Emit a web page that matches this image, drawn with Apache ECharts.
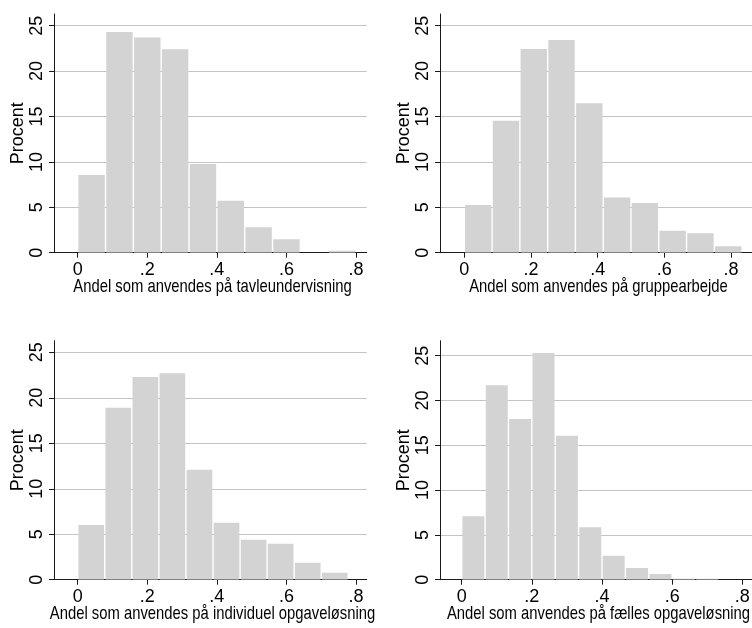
<!DOCTYPE html>
<html><head><meta charset="utf-8">
<script src="https://cdn.jsdelivr.net/npm/echarts@6/dist/echarts.min.js"></script>
<style>html,body{margin:0;padding:0;background:#fff}#c{width:752px;height:628px}</style>
</head><body><div id="c"></div>
<script>
// ---- data ----
const yTicks = [0, 5, 10, 15, 20, 25];
const yTickLabels = ['0', '5', '10', '15', '20', '25'];
const xTicks = [0, 0.2, 0.4, 0.6, 0.8];
const xTickLabels = ['0', '.2', '.4', '.6', '.8'];
const yTitle = 'Procent';
const xTitles = [
  'Andel som anvendes på tavleundervisning',
  'Andel som anvendes på gruppearbejde',
  'Andel som anvendes på individuel opgaveløsning',
  'Andel som anvendes på fælles opgaveløsning'
];
// bin edges (share of time) and percent per bin
const edges1 = [0, 0.08, 0.16, 0.24, 0.32, 0.40, 0.48, 0.56, 0.64, 0.72, 0.80];
const pct1 = [8.55, 24.3, 23.7, 22.4, 9.77, 5.73, 2.79, 1.47, 0, 0.22];
const edges2 = [0, 0.0833, 0.1667, 0.25, 0.3333, 0.4167, 0.5, 0.5833, 0.6667, 0.75, 0.8333];
const pct2 = [5.25, 14.54, 22.43, 23.42, 16.45, 6.09, 5.47, 2.42, 2.13, 0.70];
const edges3 = [0, 0.0778, 0.1556, 0.2333, 0.3111, 0.3889, 0.4667, 0.5444, 0.6222, 0.7, 0.7778];
const pct3 = [6.01, 18.9, 22.3, 22.7, 12.1, 6.27, 4.4, 3.96, 1.87, 0.77];
const edges4 = [0, 0.0667, 0.1333, 0.2, 0.2667, 0.3333, 0.4, 0.4667, 0.5333, 0.6, 0.6667, 0.7333];
const pct4 = [7.07, 21.69, 17.93, 25.3, 16.07, 5.84, 2.68, 1.30, 0.63, 0.11, 0.11];

const allEdges = [edges1, edges2, edges3, edges4];
const allPct = [pct1, pct2, pct3, pct4];

// ---- layout ----
const grids = [
  {left: 54, top: 14, width: 312.7, height: 238.7},
  {left: 440, top: 14, width: 312, height: 238.7},
  {left: 54, top: 340.7, width: 312.7, height: 239},
  {left: 440, top: 340.7, width: 312, height: 239}
];
const xRanges = [[-0.0681, 0.8307], [-0.0729, 0.863], [-0.0681, 0.8307], [-0.0618, 0.8277]];
const yMaxes = [26.29, 26.29, 26.28, 26.67];
const titlePos = [[212.5, 287], [598.5, 287], [212.5, 614], [598.5, 614]];

const font = "'Liberation Sans',Arial,Helvetica,sans-serif";
const axisColor = '#1a1a1a';

function renderItem(params, api) {
  const x0 = api.value(0), x1 = api.value(1), v = api.value(2);
  if (!(v > 0)) return null;
  const p0 = api.coord([x0, v]);
  const p1 = api.coord([x1, 0]);
  return {
    type: 'rect',
    shape: {x: p0[0] + 0.7, y: p0[1], width: p1[0] - p0[0] - 1.4, height: p1[1] - p0[1]},
    style: {fill: '#d3d3d3'}
  };
}

const xAxes = [], yAxes = [], series = [], graphics = [];
for (let i = 0; i < 4; i++) {
  xAxes.push({
    type: 'value', gridIndex: i, min: xRanges[i][0], max: xRanges[i][1],
    axisLine: {show: true, onZero: false, lineStyle: {color: axisColor, width: 1}},
    axisTick: {show: true, length: 5, customValues: xTicks, lineStyle: {color: axisColor}},
    axisLabel: {customValues: xTicks, margin: 8, fontFamily: font, fontSize: 18, color: '#000',
      formatter: v => xTickLabels[xTicks.findIndex(t => Math.abs(t - v) < 1e-6)]},
    splitLine: {show: false}
  });
  yAxes.push({
    type: 'value', gridIndex: i, min: 0, max: yMaxes[i],
    name: yTitle, nameLocation: 'middle', nameGap: 26, nameRotate: 90,
    nameTextStyle: {fontFamily: font, fontSize: 18, color: '#000'},
    axisLine: {show: true, onZero: false, lineStyle: {color: axisColor, width: 1}},
    axisTick: {show: true, length: 5, customValues: yTicks, lineStyle: {color: axisColor}},
    axisLabel: {customValues: yTicks, rotate: 90, margin: 8, fontFamily: font, fontSize: 18, color: '#000',
      formatter: v => yTickLabels[yTicks.findIndex(t => Math.abs(t - v) < 1e-6)]},
    splitLine: {show: true, lineStyle: {color: '#c4c4c4', width: 1}}
  });
  const d = allPct[i].map((p, k) => [allEdges[i][k], allEdges[i][k + 1], p]);
  series.push({
    type: 'custom', xAxisIndex: i, yAxisIndex: i, renderItem: renderItem,
    encode: {x: [0, 1], y: 2}, data: d, clip: true, silent: true
  });
  graphics.push({
    type: 'text', x: titlePos[i][0], y: titlePos[i][1], scaleX: 0.78, scaleY: 1, silent: true,
    style: {text: xTitles[i], fontFamily: font, fontSize: 19, fill: '#000', align: 'center', verticalAlign: 'middle'}
  });
}

const chart = echarts.init(document.getElementById('c'), null, {renderer: 'canvas'});
chart.setOption({
  animation: false,
  backgroundColor: '#fff',
  grid: grids.map(g => Object.assign({containLabel: false, outerBoundsMode: 'none'}, g)),
  xAxis: xAxes, yAxis: yAxes, series: series,
  graphic: {elements: graphics}
});
</script></body></html>
